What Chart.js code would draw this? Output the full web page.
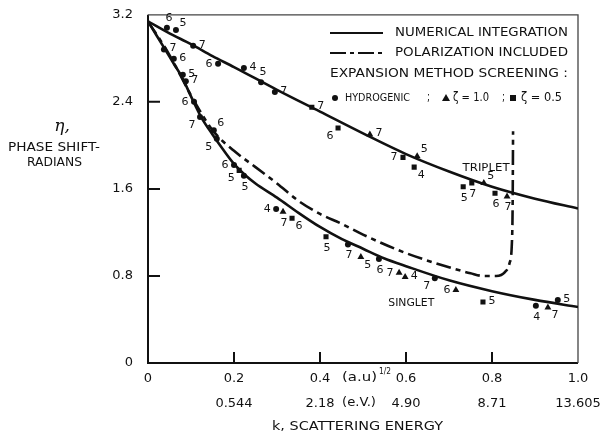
<!DOCTYPE html>
<html>
<head>
<meta charset="utf-8">
<script src="https://cdn.jsdelivr.net/npm/chart.js@4.4.0/dist/chart.umd.min.js"></script>
<style>
  html, body { margin: 0; padding: 0; background: #fff; }
</style>
</head>
<body>
<canvas id="c" width="604" height="438"></canvas>
<script>
// axis ticks
const kTicks = [0, 0.2, 0.4, 0.6, 0.8, 1.0];
const kLabels = ['0', '0.2', '0.4', '0.6', '0.8', '1.0'];
const eLabels = ['', '0.544', '2.18', '4.90', '8.71', '13.605'];
const etaTicks = [0, 0.8, 1.6, 2.4, 3.2];
const etaLabels = ['0', '0.8', '1.6', '2.4', '3.2'];

// numerical integration - triplet
const tripK   = [0, 0.05, 0.1, 0.15, 0.2, 0.3, 0.4, 0.5, 0.6, 0.7, 0.8, 0.9, 1.0];
const tripEta = [3.14, 3.03, 2.93, 2.82, 2.72, 2.51, 2.31, 2.11, 1.92, 1.76, 1.62, 1.51, 1.42];

// numerical integration - singlet
const singK   = [0, 0.02, 0.04, 0.06, 0.08, 0.1, 0.125, 0.15, 0.175, 0.2, 0.225, 0.25, 0.3, 0.35, 0.4, 0.45, 0.5, 0.55, 0.6, 0.7, 0.8, 0.9, 1.0];
const singEta = [3.14, 3.01, 2.88, 2.75, 2.62, 2.45, 2.25, 2.10, 1.96, 1.83, 1.73, 1.65, 1.52, 1.38, 1.25, 1.14, 1.05, 0.96, 0.89, 0.76, 0.66, 0.58, 0.515];

// polarization included (singlet)
const polK   = [0, 0.05, 0.1, 0.15, 0.2, 0.25, 0.3, 0.35, 0.4, 0.45, 0.5, 0.6, 0.7, 0.75, 0.78, 0.81, 0.83, 0.841, 0.846, 0.848, 0.849];
const polEta = [3.14, 2.83, 2.46, 2.14, 1.95, 1.80, 1.65, 1.49, 1.37, 1.28, 1.18, 1.01, 0.88, 0.825, 0.80, 0.80, 0.835, 0.92, 1.08, 1.45, 2.13];

// expansion method, hydrogenic screening (number = terms)
const hydK   = [0.044, 0.065, 0.105, 0.163, 0.223, 0.263, 0.295, 0.037, 0.060, 0.081, 0.088, 0.107, 0.121, 0.153, 0.160, 0.200, 0.223, 0.298, 0.465, 0.537, 0.667, 0.902, 0.953];
const hydEta = [3.08, 3.06, 2.915, 2.75, 2.71, 2.58, 2.49, 2.88, 2.795, 2.65, 2.59, 2.40, 2.26, 2.14, 2.06, 1.82, 1.72, 1.415, 1.09, 0.955, 0.78, 0.525, 0.58];
const hydN   = ['6', '5', '7', '6', '4', '5', '7', '7', '6', '5', '7', '6', '7', '6', '5', '6', '5', '4', '7', '6', '7', '4', '5'];

// expansion method, zeta = 1.0
const z10K   = [0.516, 0.626, 0.781, 0.835, 0.314, 0.495, 0.584, 0.598, 0.716, 0.930];
const z10Eta = [2.10, 1.90, 1.655, 1.53, 1.39, 0.975, 0.83, 0.79, 0.67, 0.51];
const z10N   = ['7', '5', '5', '7', '7', '5', '7', '4', '6', '7'];

// expansion method, zeta = 0.5
const z05K   = [0.381, 0.442, 0.593, 0.619, 0.733, 0.753, 0.807, 0.212, 0.335, 0.414, 0.779];
const z05Eta = [2.35, 2.16, 1.89, 1.80, 1.62, 1.655, 1.56, 1.77, 1.33, 1.16, 0.56];
const z05N   = ['7', '6', '7', '4', '5', '7', '6', '5', '6', '5', '5'];

// where each number sits next to its marker
const hydSide = ['a', 'ra', 'r', 'l', 'r', 'a', 'r', 'r', 'r', 'r', 'r', 'l', 'lb', 'ra', 'lb', 'l', 'b', 'l', 'b', 'b', 'lb', 'b', 'r'];
const z10Side = ['r', 'ra', 'ra', 'b', 'b', 'rb', 'l', 'r', 'l', 'rb'];
const z05Side = ['r', 'lb', 'l', 'rb', 'b', 'b', 'b', 'lb', 'rb', 'b', 'r'];

const FONT = 'DejaVu Sans';
const INK = '#111';
const OFF = { r: [9, -1], l: [-9, 0], a: [2, -10], b: [1, 11], ra: [7, -7], rb: [7, 8], la: [-7, -7], lb: [-8, 8] };

function pts(xs, ys) { return xs.map((x, i) => ({ x: x, y: ys[i] })); }

function fitText(ctx, txt, x, y, w, font) {
    ctx.save();
    ctx.font = font;
    const m = ctx.measureText(txt).width;
    ctx.translate(x, y);
    ctx.scale(w / m, 1);
    ctx.textAlign = 'left';
    ctx.textBaseline = 'middle';
    ctx.fillText(txt, 0, 0);
    ctx.restore();
}

const decor = {
    id: 'decor',
    beforeDatasetsDraw(chart) {
        const ctx = chart.ctx, a = chart.chartArea;
        const sx = chart.scales.x, sy = chart.scales.y;
        ctx.save();
        ctx.strokeStyle = INK;
        // frame
        ctx.lineWidth = 2;
        ctx.beginPath();
        ctx.moveTo(a.left, a.top); ctx.lineTo(a.left, a.bottom); ctx.lineTo(a.right, a.bottom);
        ctx.stroke();
        ctx.strokeStyle = '#444';
        ctx.lineWidth = 1.3;
        ctx.beginPath();
        ctx.moveTo(a.left, a.top); ctx.lineTo(a.right, a.top); ctx.lineTo(a.right, a.bottom);
        ctx.stroke();
        // inward tick marks
        ctx.strokeStyle = INK;
        ctx.lineWidth = 2;
        ctx.beginPath();
        kTicks.slice(1, -1).forEach(v => {
            const px = sx.getPixelForValue(v);
            ctx.moveTo(px, a.bottom); ctx.lineTo(px, a.bottom - 11);
        });
        etaTicks.slice(1, -1).forEach(v => {
            const py = sy.getPixelForValue(v);
            ctx.moveTo(a.left, py); ctx.lineTo(a.left + 12, py);
        });
        ctx.stroke();
        ctx.restore();
    },
    afterDatasetsDraw(chart) {
        const ctx = chart.ctx;
        const sx = chart.scales.x, sy = chart.scales.y;
        ctx.save();
        ctx.fillStyle = INK;
        ctx.font = '11px "' + FONT + '"';
        ctx.textAlign = 'center';
        ctx.textBaseline = 'middle';
        const put = (xs, ys, ns, sides) => xs.forEach((x, i) => {
            const o = OFF[sides[i]];
            ctx.fillText(ns[i], sx.getPixelForValue(x) + o[0], sy.getPixelForValue(ys[i]) + o[1]);
        });
        put(hydK, hydEta, hydN, hydSide);
        put(z10K, z10Eta, z10N, z10Side);
        put(z05K, z05Eta, z05N, z05Side);
        // curve names
        ctx.font = '11px "' + FONT + '"';
        fitText(ctx, 'TRIPLET', sx.getPixelForValue(0.785) - 23, sy.getPixelForValue(1.79), 47, ctx.font);
        fitText(ctx, 'SINGLET', sx.getPixelForValue(0.61) - 22, sy.getPixelForValue(0.55), 46, ctx.font);
        ctx.restore();
    },
    afterDraw(chart) {
        const ctx = chart.ctx;
        ctx.save();
        ctx.fillStyle = INK;
        ctx.strokeStyle = INK;
        const f13 = '13px "' + FONT + '"';
        // legend
        ctx.lineWidth = 2;
        ctx.beginPath(); ctx.moveTo(330, 33); ctx.lineTo(383, 33); ctx.stroke();
        ctx.setLineDash([16, 4, 4, 4]);
        ctx.beginPath(); ctx.moveTo(330, 53); ctx.lineTo(384, 53); ctx.stroke();
        ctx.setLineDash([]);
        fitText(ctx, 'NUMERICAL INTEGRATION', 395, 33, 173, f13);
        fitText(ctx, 'POLARIZATION INCLUDED', 395, 53, 173, f13);
        fitText(ctx, 'EXPANSION METHOD SCREENING :', 330, 74, 238, f13);
        ctx.beginPath(); ctx.arc(335, 98, 3, 0, Math.PI * 2); ctx.fill();
        fitText(ctx, 'HYDROGENIC', 345, 98, 65, '10px "' + FONT + '"');
        fitText(ctx, ';', 427, 98, 3, '12px "' + FONT + '"');
        ctx.beginPath(); ctx.moveTo(446, 94); ctx.lineTo(450, 101); ctx.lineTo(442, 101); ctx.closePath(); ctx.fill();
        fitText(ctx, 'ζ = 1.0', 453, 98, 36, '12px "' + FONT + '"');
        fitText(ctx, ';', 502, 98, 3, '12px "' + FONT + '"');
        ctx.fillRect(510, 95, 6, 6);
        fitText(ctx, 'ζ = 0.5', 521, 98, 41, '12px "' + FONT + '"');
        // x axis extras
        fitText(ctx, '(a.u)', 342, 378, 35, f13);
        fitText(ctx, '1/2', 379, 372, 12, '9px "' + FONT + '"');
        fitText(ctx, '(e.V.)', 342, 403, 34, f13);
        fitText(ctx, 'k, SCATTERING ENERGY', 272, 427, 171, f13);
        // y axis title
        ctx.font = 'italic 17px "DejaVu Serif"';
        ctx.textAlign = 'center';
        ctx.textBaseline = 'middle';
        ctx.fillText('η,', 62, 127);
        fitText(ctx, 'PHASE SHIFT-', 8, 148, 92, f13);
        fitText(ctx, 'RADIANS', 27, 163, 55, f13);
        ctx.restore();
    }
};

const lineDs = (label, xs, ys, dash) => ({
    label: label,
    data: pts(xs, ys),
    showLine: true,
    borderColor: INK,
    borderWidth: 2.6,
    borderDash: dash,
    pointRadius: 0,
    cubicInterpolationMode: 'monotone',
    fill: false
});

const markDs = (label, xs, ys, style, r) => ({
    label: label,
    data: pts(xs, ys),
    showLine: false,
    pointStyle: style,
    pointRadius: r,
    pointBackgroundColor: INK,
    pointBorderColor: INK,
    pointBorderWidth: 0
});

new Chart(document.getElementById('c').getContext('2d'), {
    type: 'scatter',
    data: {
        datasets: [
            lineDs('Triplet', tripK, tripEta, []),
            lineDs('Singlet', singK, singEta, []),
            lineDs('Polarization included', polK, polEta, [15, 5, 5, 5]),
            markDs('Hydrogenic', hydK, hydEta, 'circle', 3),
            markDs('ζ = 1.0', z10K, z10Eta, 'triangle', 4),
            markDs('ζ = 0.5', z05K, z05Eta, 'rect', 3.6)
        ]
    },
    options: {
        responsive: false,
        animation: false,
        layout: { padding: { top: 14, right: 26, left: 0, bottom: 0 } },
        plugins: { legend: { display: false }, tooltip: { enabled: false } },
        scales: {
            x: {
                type: 'linear',
                min: 0,
                max: 1,
                afterBuildTicks: s => { s.ticks = kTicks.map(v => ({ value: v })); },
                afterFit: s => { s.height = 75; },
                grid: { display: false },
                border: { display: false },
                ticks: {
                    color: INK,
                    padding: -5,
                    maxRotation: 0,
                    autoSkip: false,
                    font: { family: FONT, size: 13, lineHeight: 1.92 },
                    callback: (v, i) => [kLabels[i], eLabels[i]]
                }
            },
            y: {
                type: 'linear',
                min: 0,
                max: 3.2,
                afterBuildTicks: s => { s.ticks = etaTicks.map(v => ({ value: v })); },
                afterFit: s => { s.width = 148; },
                grid: { display: false },
                border: { display: false },
                ticks: {
                    color: INK,
                    padding: 7,
                    font: { family: FONT, size: 13 },
                    callback: (v, i) => etaLabels[i]
                }
            }
        }
    },
    plugins: [decor]
});
</script>
</body>
</html>
